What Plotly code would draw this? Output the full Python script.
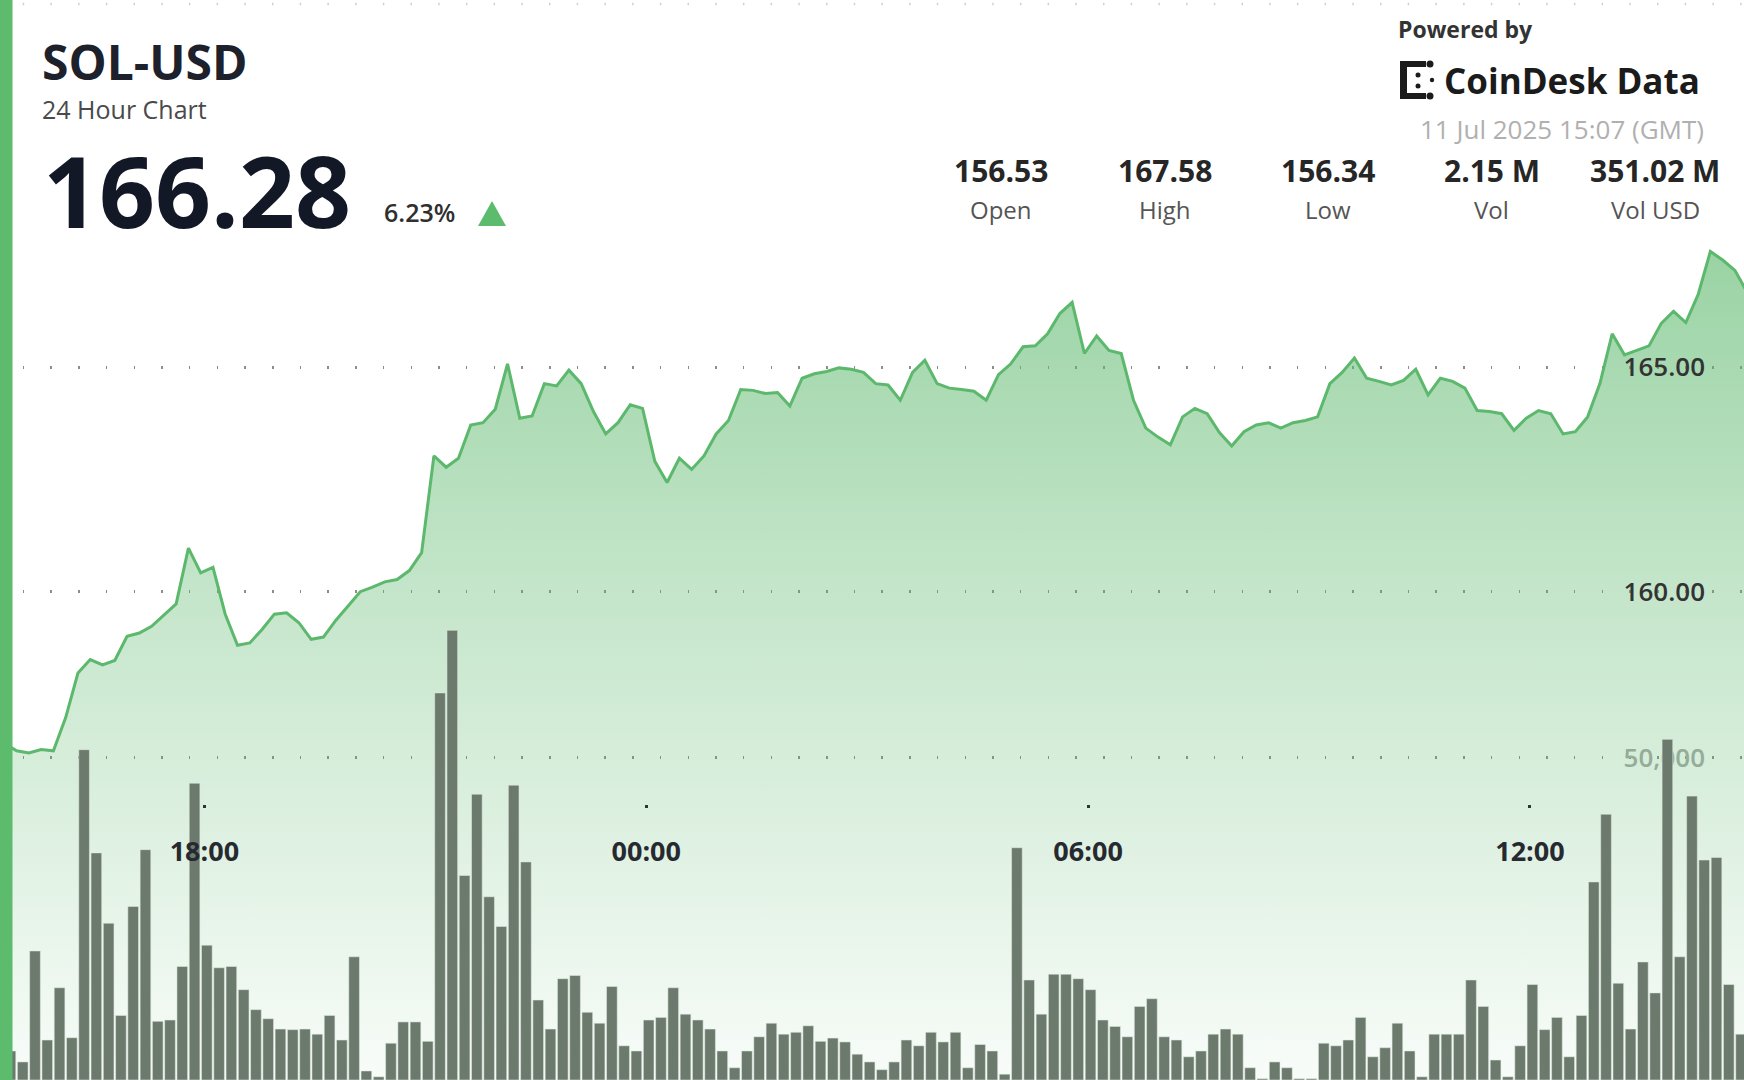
import plotly.graph_objects as go
import pandas as pd

W, H = 1744, 1080

# ---------------- data ----------------
symbol = "SOL-USD"
subtitle = "24 Hour Chart"
last_price = "166.28"
change_pct = "6.23%"
stat_values = ["156.53", "167.58", "156.34", "2.15 M", "351.02 M"]
stat_labels = ["Open", "High", "Low", "Vol", "Vol USD"]
timestamp_text = "11 Jul 2025 15:07 (GMT)"

price_start = "2025-07-10 15:17"
prices = [
    156.63, 156.46, 156.41, 156.49, 156.46, 157.20, 158.19, 158.49, 158.37, 158.47,
    159.01, 159.08, 159.23, 159.48, 159.73, 160.97, 160.42, 160.54, 159.50, 158.81,
    158.86, 159.16, 159.50, 159.53, 159.31, 158.94, 158.99, 159.36, 159.68, 160.00,
    160.10, 160.22, 160.27, 160.47, 160.87, 163.02, 162.77, 162.97, 163.71, 163.76,
    164.06, 165.07, 163.86, 163.91, 164.63, 164.58, 164.93, 164.63, 164.01, 163.51,
    163.76, 164.16, 164.08, 162.90, 162.43, 162.97, 162.72, 163.02, 163.51, 163.81,
    164.50, 164.48, 164.41, 164.43, 164.13, 164.75, 164.85, 164.90, 164.98, 164.95,
    164.88, 164.63, 164.60, 164.26, 164.88, 165.15, 164.63, 164.53, 164.50, 164.46,
    164.26, 164.83, 165.07, 165.45, 165.47, 165.74, 166.19, 166.44, 165.30, 165.69,
    165.37, 165.30, 164.26, 163.64, 163.44, 163.27, 163.89, 164.08, 163.96, 163.54,
    163.24, 163.56, 163.71, 163.76, 163.64, 163.76, 163.81, 163.89, 164.63, 164.88,
    165.20, 164.75, 164.68, 164.60, 164.70, 164.95, 164.38, 164.75, 164.68, 164.53,
    164.03, 164.01, 163.96, 163.59, 163.86, 164.03, 163.96, 163.51, 163.56, 163.89,
    164.63, 165.74, 165.27, 165.37, 165.47, 165.97, 166.24, 165.99, 166.61, 167.57,
    167.38, 167.15, 166.66,
]

bar_start = "2025-07-10 15:22"
volumes = [
    4500, 2800, 20000, 6200, 14300, 6550, 51200, 35200, 24300, 10000,
    26900, 35700, 9100, 9300, 17600, 46000, 20900, 17400, 17600, 14000,
    10900, 9500, 7900, 7800, 7900, 7100, 10000, 6200, 19100, 1400,
    500, 5700, 9000, 9000, 6000, 60000, 69700, 31700, 44300, 28400,
    23800, 45700, 33800, 12400, 7900, 15700, 16200, 10500, 8800, 14500,
    5300, 4500, 9300, 9700, 14300, 10200, 9300, 7900, 4500, 1900,
    4500, 6700, 8800, 7100, 7400, 8400, 6000, 6500, 5900, 4000,
    2800, 1600, 2800, 6200, 5300, 7400, 5900, 7400, 1900, 5500,
    4500, 900, 36000, 15500, 10200, 16400, 16400, 15700, 14000, 9300,
    8300, 6700, 11400, 12600, 6700, 6200, 3600, 4500, 7100, 7900,
    7100, 1900, 200, 2800, 1900, 200, 200, 5700, 5300, 6200,
    9700, 3600, 5000, 8800, 4500, 500, 7100, 7100, 7100, 15500,
    11400, 3100, 500, 5300, 14800, 7800, 9700, 3600, 10000, 30700,
    41200, 15000, 7900, 18300, 13500, 52800, 19100, 44000, 34100, 34500,
    14800, 7100,
]

tick_times = ["2025-07-10 18:00", "2025-07-11 00:00", "2025-07-11 06:00", "2025-07-11 12:00"]
tick_labels = ["18:00", "00:00", "06:00", "12:00"]
price_ticks = [160, 165]
price_tick_labels = ["160.00", "165.00"]
vol_ticks = [50000]
vol_tick_labels = ["50,000"]

price_times = pd.date_range(price_start, periods=len(prices), freq="10min")
bar_times = pd.date_range(bar_start, periods=len(volumes), freq="10min")

# ---------------- style ----------------
FONT = "Open Sans"
GREEN = "#5cbb6d"
LINE = "#5cb86c"
DARK = "#151b26"
GRID_DASH = "0px,22.7px,1.5px,3.5px"


def X(px):
    return px / W


def Y(py):
    return 1 - py / H


fig = go.Figure()

fig.add_trace(go.Scatter(
    x=price_times, y=prices, mode="lines",
    line=dict(color=LINE, width=3),
    fill="tozeroy",
    fillgradient=dict(
        type="vertical",
        start=149.1, stop=167.6,
        colorscale=[[0, "rgba(92,184,108,0.04)"], [0.59, "rgba(92,184,108,0.36)"],
                    [1, "rgba(92,184,108,0.62)"]],
    ),
    hoverinfo="skip", showlegend=False, yaxis="y",
))

fig.add_trace(go.Bar(
    x=bar_times, y=volumes, yaxis="y2",
    marker=dict(color="rgb(108,122,110)", line=dict(color="rgba(225,235,225,0.55)", width=1)),
    hoverinfo="skip", showlegend=False,
))

fig.update_layout(
    width=W, height=H,
    margin=dict(l=0, r=0, t=0, b=0),
    paper_bgcolor="white", plot_bgcolor="white",
    font=dict(family=FONT, color=DARK),
    bargap=0.13,
    xaxis=dict(
        type="date",
        range=["2025-07-10 15:13:29", "2025-07-11 14:54:24"],
        anchor="free", position=Y(804),
        tickmode="array", tickvals=tick_times, ticktext=tick_labels,
        ticks="outside", ticklen=3, tickwidth=3, tickcolor="#333",
        ticklabelstandoff=21,
        tickfont=dict(family=FONT, size=27, color="#262a30", weight=700),
        showgrid=False, zeroline=False, showline=False,
    ),
    yaxis=dict(
        range=[149.135, 173.166], side="right",
        tickmode="array", tickvals=price_ticks, ticktext=price_tick_labels,
        ticklabelposition="inside", ticks="", ticklabelstandoff=36,
        tickfont=dict(family=FONT, size=26, color="#333", weight=600),
        showgrid=True, gridcolor="#8c8c8c", gridwidth=2.5, griddash=GRID_DASH,
        zeroline=False, showline=False,
    ),
    yaxis2=dict(
        range=[0, 167390], side="right", overlaying="y",
        tickmode="array", tickvals=vol_ticks, ticktext=vol_tick_labels,
        ticklabelposition="inside", ticks="", ticklabelstandoff=36,
        tickfont=dict(family=FONT, size=26, color="#a8a8a8", weight=600),
        showgrid=True, gridcolor="#8c8c8c", gridwidth=2.5, griddash=GRID_DASH,
        zeroline=False, showline=False, layer="below traces",
    ),
)

shapes = []
# left accent stripe
shapes.append(dict(type="rect", xref="paper", yref="paper", x0=0, x1=X(12.5), y0=0, y1=1,
                   fillcolor=GREEN, line=dict(width=0), layer="above"))
# faint top dotted rule
shapes.append(dict(type="line", xref="paper", yref="paper", x0=0, x1=1, y0=Y(4), y1=Y(4),
                   line=dict(color="#d0d0d0", width=2.5, dash=GRID_DASH), layer="above"))
# up triangle
shapes.append(dict(type="path", xref="paper", yref="paper",
                   path=f"M {X(478)} {Y(226)} L {X(506)} {Y(226)} L {X(492)} {Y(201)} Z",
                   fillcolor=GREEN, line=dict(width=0), layer="above"))
# CoinDesk Data logo glyph (approximate)
LOGO = "#1b1b1b"
for (x0, y0, x1, y1) in [(1400, 61, 1407, 99), (1400, 61, 1426, 67), (1400, 93, 1426, 99)]:
    shapes.append(dict(type="rect", xref="paper", yref="paper", x0=X(x0), x1=X(x1), y0=Y(y1), y1=Y(y0),
                       fillcolor=LOGO, line=dict(width=0), layer="above"))
for (cx, cy, r) in [(1430, 64, 3.5), (1430, 96, 3.5), (1418, 75, 2.5), (1418, 86, 2.5), (1432, 80, 2.2)]:
    shapes.append(dict(type="circle", xref="paper", yref="paper", x0=X(cx - r), x1=X(cx + r),
                       y0=Y(cy + r), y1=Y(cy - r), fillcolor=LOGO, line=dict(width=0), layer="above"))
fig.update_layout(shapes=shapes)

ann = []


def text(t, x, y, size, color=DARK, weight=400, xanchor="left", yanchor="middle"):
    ann.append(dict(text=t, x=X(x), y=Y(y), xref="paper", yref="paper", showarrow=False,
                    xanchor=xanchor, yanchor=yanchor, borderpad=0,
                    font=dict(family=FONT, size=size, color=color, weight=weight)))


text(symbol, 41, 62, 48, color="#1c212b", weight=700)
text(subtitle, 41, 109, 25, color="#4a4a4a")
text(last_price, 42, 190, 98, color="#121826", weight=700)
text(change_pct, 383, 212, 25, color="#2f2f2f", weight=600)

stat_x = [1001, 1164.5, 1328, 1491.5, 1655]
for sx, v, lab in zip(stat_x, stat_values, stat_labels):
    text(v, sx, 170, 30, color="#262626", weight=700, xanchor="center")
    text(lab, sx, 210, 24, color="#555", xanchor="center")

text("Powered by", 1397, 29, 23, color="#333", weight=700)
text("CoinDesk Data", 1443, 80, 35, color="#1b1b1b", weight=700)
text(timestamp_text, 1705, 129, 26, color="#b0b0b0", xanchor="right")

fig.update_layout(annotations=ann)

fig.write_html("out.html", config={"displayModeBar": False},
               post_script="document.body.style.margin='0px';")
